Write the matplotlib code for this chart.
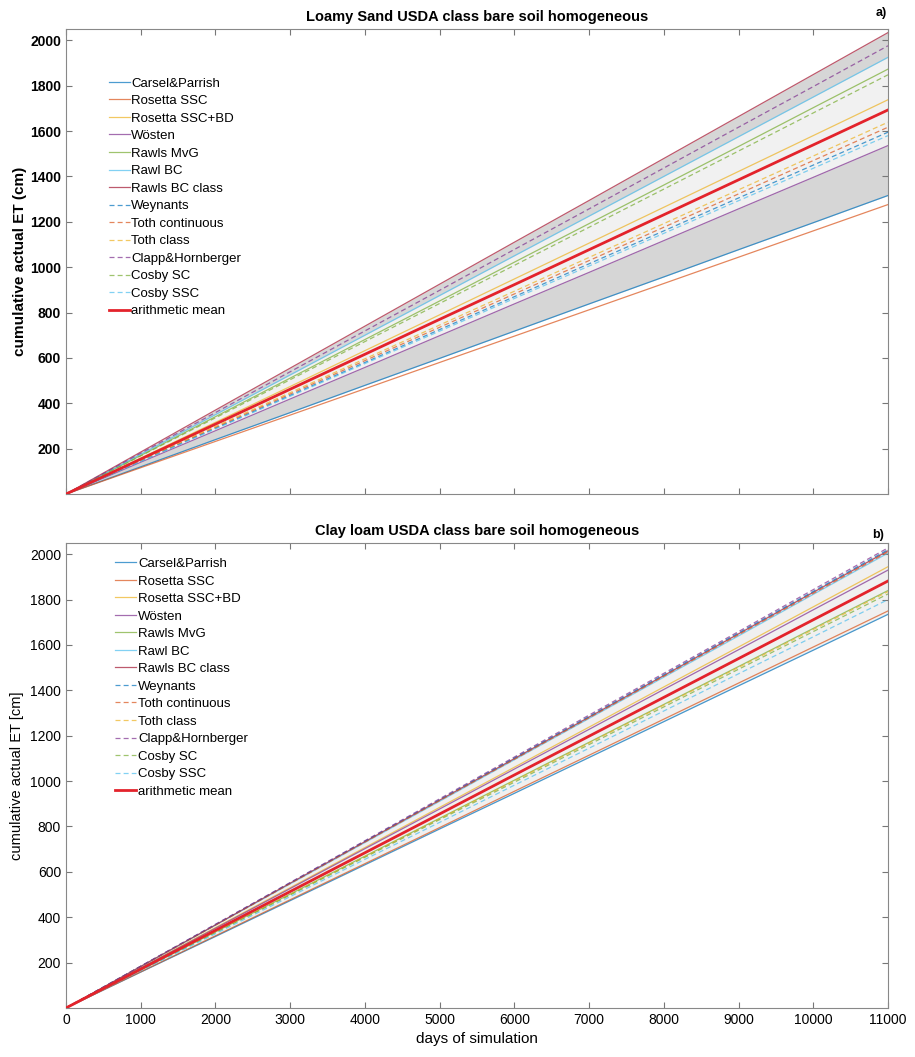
import matplotlib
matplotlib.use("Agg")
from matplotlib import pyplot as plt
import numpy as np

plt.rcParams['font.family'] = ['Liberation Sans', 'DejaVu Sans']

days = [0, 1000, 2000, 3000, 4000, 5000, 6000, 7000, 8000, 9000, 10000, 11000]

names = ["Carsel&Parrish", "Rosetta SSC", "Rosetta SSC+BD", "Wösten", "Rawls MvG",
         "Rawl BC", "Rawls BC class", "Weynants", "Toth continuous", "Toth class",
         "Clapp&Hornberger", "Cosby SC", "Cosby SSC"]

# panel a) loamy sand, cumulative ET (cm)
a_carsel  = [0, 120, 240, 359, 479, 598, 718, 838, 957, 1077, 1196, 1316]
a_ros     = [0, 116, 232, 348, 464, 580, 696, 812, 928, 1044, 1160, 1276]
a_rosbd   = [0, 158, 316, 474, 632, 790, 948, 1106, 1264, 1422, 1580, 1738]
a_wosten  = [0, 140, 279, 419, 558, 698, 838, 977, 1117, 1257, 1396, 1536]
a_rmvg    = [0, 170, 341, 511, 681, 851, 1022, 1192, 1362, 1532, 1703, 1873]
a_rbc     = [0, 175, 350, 525, 700, 875, 1050, 1225, 1400, 1575, 1750, 1925]
a_rbccl   = [0, 185, 370, 555, 740, 925, 1110, 1294, 1479, 1664, 1849, 2034]
a_weyn    = [0, 145, 290, 435, 580, 725, 870, 1015, 1160, 1305, 1450, 1595]
a_tothc   = [0, 147, 294, 441, 588, 735, 882, 1029, 1176, 1323, 1470, 1617]
a_tothcl  = [0, 149, 298, 447, 596, 745, 894, 1043, 1192, 1341, 1490, 1639]
a_clapp   = [0, 180, 359, 539, 719, 898, 1078, 1257, 1437, 1617, 1796, 1976]
a_cosbysc = [0, 168, 336, 504, 672, 840, 1008, 1176, 1344, 1512, 1680, 1848]
a_cosbyss = [0, 144, 287, 431, 575, 718, 862, 1005, 1149, 1293, 1436, 1580]
a_mean    = [0, 154, 308, 462, 616, 770, 923, 1077, 1231, 1385, 1539, 1693]

# panel b) clay loam
b_carsel  = [0, 158, 315, 473, 631, 789, 946, 1104, 1262, 1420, 1577, 1735]
b_ros     = [0, 159, 318, 477, 636, 795, 955, 1114, 1273, 1432, 1591, 1750]
b_rosbd   = [0, 177, 354, 530, 707, 884, 1061, 1238, 1415, 1591, 1768, 1945]
b_wosten  = [0, 175, 351, 526, 702, 877, 1053, 1228, 1404, 1579, 1755, 1930]
b_rmvg    = [0, 167, 335, 502, 669, 836, 1004, 1171, 1338, 1505, 1673, 1840]
b_rbc     = [0, 182, 365, 547, 729, 911, 1094, 1276, 1458, 1640, 1823, 2005]
b_rbccl   = [0, 183, 366, 550, 733, 916, 1099, 1282, 1465, 1649, 1832, 2015]
b_weyn    = [0, 184, 367, 551, 735, 918, 1102, 1285, 1469, 1653, 1836, 2020]
b_tothc   = [0, 183, 365, 548, 731, 914, 1096, 1279, 1462, 1645, 1827, 2010]
b_tothcl  = [0, 167, 334, 500, 667, 834, 1001, 1168, 1335, 1501, 1668, 1835]
b_clapp   = [0, 184, 369, 553, 737, 922, 1106, 1291, 1475, 1659, 1844, 2028]
b_cosbysc = [0, 166, 332, 498, 664, 830, 995, 1161, 1327, 1493, 1659, 1825]
b_cosbyss = [0, 164, 327, 491, 655, 818, 982, 1145, 1309, 1473, 1636, 1800]
b_mean    = [0, 171, 342, 513, 684, 855, 1027, 1198, 1369, 1540, 1711, 1882]

cols = ["#0072BD", "#D95319", "#EDB120", "#7E2F8E", "#77AC30", "#4DBEEE", "#A2142F"]


def draw(ax, series, mean, bands):
    x = np.array(days)
    for lo, hi, c in bands:
        ax.fill_between(x, lo, hi, color=c, lw=0, zorder=1)
    for i, (nm, y) in enumerate(zip(names, series)):
        ls = "-" if i < 7 else (0, (4, 2.5))
        ax.plot(x, y, color=cols[i % 7], lw=0.9, ls=ls, alpha=0.7, label=nm, zorder=2)
    ax.plot(x, mean, color="#E3232B", lw=2, label="arithmetic mean", zorder=3)
    ax.set_xlim(0, 11000)
    ax.set_ylim(0, 2050)
    ax.set_xticks(range(0, 11001, 1000))
    ax.set_yticks(range(200, 2001, 200))
    ax.tick_params(direction="in", top=True, right=True, length=4, color="#777777")
    for s in ax.spines.values():
        s.set_color("#888888")
        s.set_linewidth(0.8)


fig = plt.figure(figsize=(9.15, 10.57), dpi=100)
ax1 = fig.add_axes([0.0721, 0.5326, 0.8984, 0.44])
ax2 = fig.add_axes([0.0721, 0.0464, 0.8984, 0.44])

sa = [a_carsel, a_ros, a_rosbd, a_wosten, a_rmvg, a_rbc, a_rbccl, a_weyn, a_tothc,
      a_tothcl, a_clapp, a_cosbysc, a_cosbyss]
sb = [b_carsel, b_ros, b_rosbd, b_wosten, b_rmvg, b_rbc, b_rbccl, b_weyn, b_tothc,
      b_tothcl, b_clapp, b_cosbysc, b_cosbyss]

draw(ax1, sa, a_mean, [(a_wosten, a_rbc, "#F1F1F1"), (a_carsel, a_wosten, "#D6D6D6"),
                       (a_rbc, a_rbccl, "#D6D6D6")])
draw(ax2, sb, b_mean, [(b_carsel, b_clapp, "#F0F0F0")])

ax1.set_xticklabels([])
for t in ax1.get_yticklabels():
    t.set_fontweight("bold")
ax1.tick_params(labelsize=10)
ax2.tick_params(labelsize=10)
ax1.set_ylabel("cumulative actual ET (cm)", fontsize=11, fontweight="bold", labelpad=2)
ax2.set_ylabel("cumulative actual ET [cm]", fontsize=10.5, labelpad=4)
ax2.set_xlabel("days of simulation", fontsize=11)
ax1.set_title("Loamy Sand USDA class bare soil homogeneous", fontsize=10.5, fontweight="bold", pad=6)
ax2.set_title("Clay loam USDA class bare soil homogeneous", fontsize=10.5, fontweight="bold", pad=6)
fig.text(0.963, 0.988, "a)", fontsize=9, fontweight="bold", ha="center", va="center")
fig.text(0.96, 0.494, "b)", fontsize=9, fontweight="bold", ha="center", va="center")

ax1.legend(loc="upper left", bbox_to_anchor=(0.052, 0.896), frameon=False, fontsize=9.5,
           labelspacing=0.4, handlelength=1.6, handletextpad=0.12, borderaxespad=0, borderpad=0)
ax2.legend(loc="upper left", bbox_to_anchor=(0.06, 0.968), frameon=False, fontsize=9.5,
           labelspacing=0.4, handlelength=1.6, handletextpad=0.12, borderaxespad=0, borderpad=0)

fig.savefig("out.png", dpi=100)
